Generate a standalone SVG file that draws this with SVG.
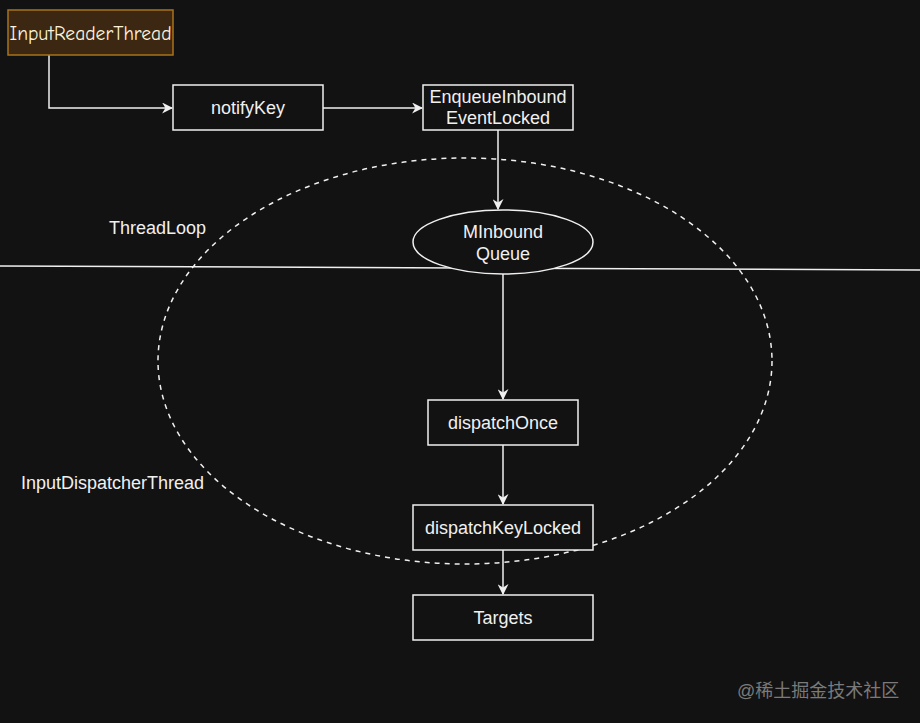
<svg xmlns="http://www.w3.org/2000/svg" width="920" height="723" viewBox="0 0 920 723">
<style>
.box{fill:#121212;stroke:#f0f0f0;stroke-width:1.5}
.t{font-family:"Liberation Sans",Arial,sans-serif;font-size:18px;fill:#f0f0f0;text-anchor:middle}
.lbl{font-family:"Liberation Sans",Arial,sans-serif;font-size:18px;fill:#f0f0f0}
.c{fill:none;stroke:#f0f0f0;stroke-width:1.5}
</style>
<defs>
<marker id="ah" viewBox="0 0 10 10" refX="9" refY="5" markerWidth="11" markerHeight="11" markerUnits="userSpaceOnUse" orient="auto">
<path d="M0,0 L10,5 L0,10 L3,5 Z" fill="#f0f0f0"/>
</marker>
</defs>
<rect width="920" height="723" fill="#121212"/>
<ellipse cx="465" cy="361" rx="307" ry="203" fill="none" stroke="#f0f0f0" stroke-width="1.5" stroke-dasharray="5 5"/>
<line x1="0" y1="266" x2="920" y2="270" stroke="#f0f0f0" stroke-width="1.5"/>
<g id="connectors">
<path class="c" d="M49,55 V108 H172" marker-end="url(#ah)"/>
<path class="c" d="M323,108 H422" marker-end="url(#ah)"/>
<path class="c" d="M498,130 V209" marker-end="url(#ah)"/>
<path class="c" d="M503,274 V399" marker-end="url(#ah)"/>
<path class="c" d="M503,445 V504" marker-end="url(#ah)"/>
<path class="c" d="M503,550 V594" marker-end="url(#ah)"/>
</g>
<g id="inputReaderThread">
<rect x="8" y="10" width="165" height="45" fill="#3b2712" stroke="#a8731c" stroke-width="1.5"/>
<text x="90.5" y="40" font-family="'Comic Sans MS','Comic Neue',cursive" font-size="20" fill="#fdf3dc" text-anchor="middle" textLength="162" lengthAdjust="spacingAndGlyphs">InputReaderThread</text>
</g>
<g id="notifyKey">
<rect class="box" x="173" y="85" width="150" height="45"/>
<text class="t" x="248" y="114">notifyKey</text>
</g>
<g id="enqueue">
<rect class="box" x="423" y="85" width="150" height="45"/>
<text class="t" x="498" y="103">EnqueueInbound</text>
<text class="t" x="498" y="124">EventLocked</text>
</g>
<g id="mInboundQueue">
<ellipse cx="503" cy="242" rx="90" ry="32" fill="#121212" stroke="#f0f0f0" stroke-width="1.5"/>
<text class="t" x="503" y="238">MInbound</text>
<text class="t" x="503" y="260">Queue</text>
</g>
<g id="dispatchOnce">
<rect class="box" x="428" y="400" width="150" height="45"/>
<text class="t" x="503" y="429">dispatchOnce</text>
</g>
<g id="dispatchKeyLocked">
<rect class="box" x="413" y="505" width="180" height="45"/>
<text class="t" x="503" y="534">dispatchKeyLocked</text>
</g>
<g id="targets">
<rect class="box" x="413" y="595" width="180" height="45"/>
<text class="t" x="503" y="624">Targets</text>
</g>
<g id="threadLoop"><text class="lbl" x="109" y="234">ThreadLoop</text></g>
<g id="inputDispatcherThread"><text class="lbl" x="21" y="489">InputDispatcherThread</text></g>
<text x="737" y="697" font-family="'Liberation Sans','Noto Sans CJK SC',sans-serif" font-size="18" fill="#7a7a7a">@稀土掘金技术社区</text>
</svg>
